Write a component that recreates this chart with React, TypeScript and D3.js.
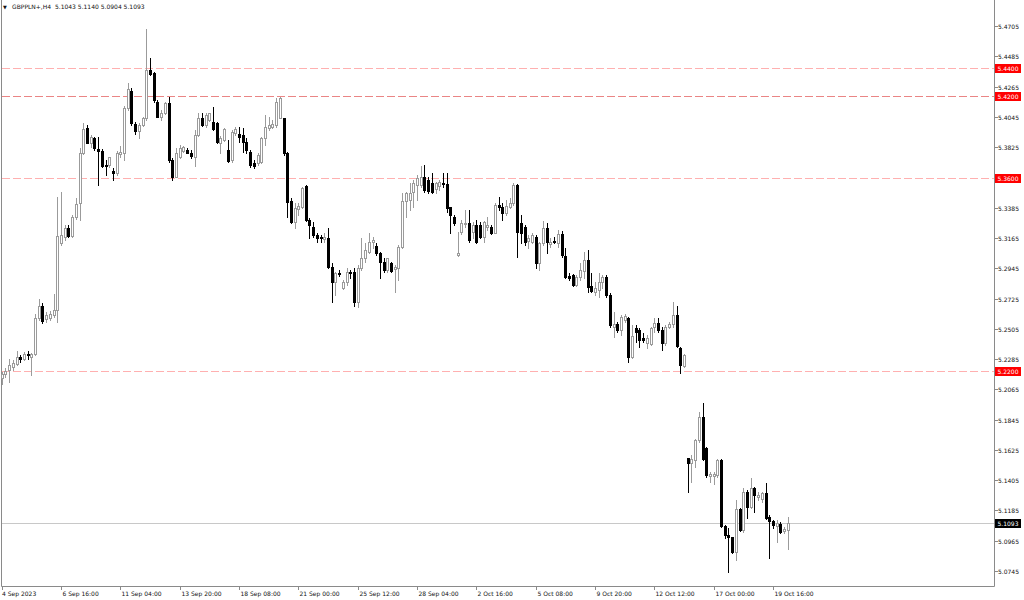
import { useEffect, useRef } from 'react';
import * as d3 from 'd3';

// GBPPLN+ H4 candles, 4 Sep 2023 -> 20 Oct 2023
const openPrices = [
  5.2144, 5.2175, 5.2204, 5.2224, 5.2248, 5.2297, 5.2289, 5.2321, 5.2301, 5.2321,
  5.2580, 5.2670, 5.2573, 5.2580, 5.2604, 5.2640, 5.3125, 5.3173, 5.3234, 5.3180,
  5.3319, 5.3416, 5.3784, 5.3961, 5.3857, 5.3889, 5.3809, 5.3799, 5.3697, 5.3692,
  5.3653, 5.3634, 5.3774, 5.3779, 5.4107, 5.4233, 5.3993, 5.3944, 5.3985, 5.4034,
  5.4385, 5.4361, 5.4155, 5.4046, 5.4070, 5.4147, 5.3731, 5.3610, 5.3755, 5.3799,
  5.3804, 5.3784, 5.3755, 5.3913, 5.4034, 5.3985, 5.4022, 5.4009, 5.3998, 5.3857,
  5.3877, 5.3804, 5.3731, 5.3927, 5.3920, 5.3913, 5.3864, 5.3791, 5.3709, 5.3707,
  5.3718, 5.3889, 5.3961, 5.3973, 5.3985, 5.4034, 5.4034, 5.3780, 5.3433, 5.3283,
  5.3375, 5.3392, 5.3544, 5.3295, 5.3246, 5.3186, 5.3174, 5.3157, 5.3162, 5.2956,
  5.2842, 5.2908, 5.2799, 5.2847, 5.2919, 5.2915, 5.2701, 5.2944, 5.3017, 5.3065,
  5.3137, 5.3108, 5.3053, 5.2992, 5.2932, 5.2981, 5.2939, 5.2944, 5.3097, 5.3435,
  5.3441, 5.3501, 5.3549, 5.3549, 5.3610, 5.3586, 5.3562, 5.3518, 5.3542, 5.3566,
  5.3556, 5.3387, 5.3315, 5.3041, 5.3210, 5.3266, 5.3271, 5.3210, 5.3259, 5.3259,
  5.3174, 5.3246, 5.3246, 5.3203, 5.3404, 5.3392, 5.3344, 5.3392, 5.3416, 5.3549,
  5.3271, 5.3246, 5.3142, 5.3137, 5.3174, 5.2981, 5.3126, 5.3235, 5.3119, 5.3142,
  5.3126, 5.3191, 5.3036, 5.2890, 5.2895, 5.2823, 5.2883, 5.2925, 5.3005, 5.2818,
  5.2770, 5.2787, 5.2847, 5.2883, 5.2750, 5.2520, 5.2537, 5.2496, 5.2568, 5.2580,
  5.2302, 5.2508, 5.2496, 5.2440, 5.2399, 5.2392, 5.2520, 5.2544, 5.2496, 5.2399,
  5.2520, 5.2537, 5.2604, 5.2367, 5.2236, 5.1563, 5.1527, 5.1551, 5.1696, 5.1866,
  5.1636, 5.1437, 5.1437, 5.1441, 5.1551, 5.1072, 5.1010, 5.0989, 5.0884, 5.1195,
  5.1042, 5.1321, 5.1212, 5.1345, 5.1284, 5.1268, 5.1309, 5.1139, 5.1108, 5.1072,
  5.1084, 5.1035, 5.1043,
];

const highPrices = [
  5.2192, 5.2217, 5.2289, 5.2277, 5.2345, 5.2313, 5.2338, 5.2345, 5.2326, 5.2611,
  5.2725, 5.2689, 5.2628, 5.2633, 5.2757, 5.3464, 5.3500, 5.3258, 5.3258, 5.3331,
  5.3452, 5.3816, 5.3998, 5.3985, 5.3913, 5.3900, 5.3900, 5.3809, 5.3731, 5.3755,
  5.3671, 5.3799, 5.3833, 5.4123, 5.4293, 5.4252, 5.4009, 5.3998, 5.4046, 5.4683,
  5.4472, 5.4373, 5.4167, 5.4094, 5.4155, 5.4191, 5.3743, 5.3816, 5.3840, 5.3833,
  5.3816, 5.3804, 5.3949, 5.4075, 5.4070, 5.4075, 5.4075, 5.4119, 5.4009, 5.3905,
  5.3961, 5.3877, 5.3949, 5.3971, 5.3973, 5.3961, 5.3891, 5.3804, 5.3731, 5.3780,
  5.3900, 5.4058, 5.4046, 5.4022, 5.4180, 5.4191, 5.4039, 5.3791, 5.3453, 5.3416,
  5.3416, 5.3537, 5.3550, 5.3307, 5.3283, 5.3198, 5.3186, 5.3198, 5.3235, 5.2981,
  5.2919, 5.2932, 5.2859, 5.2944, 5.2932, 5.2944, 5.2968, 5.3162, 5.3126, 5.3198,
  5.3174, 5.3126, 5.3065, 5.3017, 5.3021, 5.2992, 5.2968, 5.3113, 5.3494, 5.3501,
  5.3562, 5.3586, 5.3622, 5.3688, 5.3695, 5.3610, 5.3634, 5.3573, 5.3586, 5.3634,
  5.3634, 5.3392, 5.3331, 5.3210, 5.3295, 5.3368, 5.3368, 5.3283, 5.3295, 5.3283,
  5.3290, 5.3319, 5.3259, 5.3416, 5.3464, 5.3416, 5.3441, 5.3453, 5.3562, 5.3557,
  5.3331, 5.3259, 5.3186, 5.3198, 5.3186, 5.3137, 5.3288, 5.3271, 5.3162, 5.3174,
  5.3223, 5.3215, 5.3089, 5.2908, 5.2900, 5.2895, 5.2981, 5.3065, 5.3077, 5.2908,
  5.2847, 5.2908, 5.2895, 5.2895, 5.2762, 5.2629, 5.2556, 5.2605, 5.2610, 5.2592,
  5.2532, 5.2532, 5.2508, 5.2472, 5.2459, 5.2520, 5.2581, 5.2581, 5.2520, 5.2532,
  5.2556, 5.2701, 5.2672, 5.2374, 5.2319, 5.1568, 5.1587, 5.1704, 5.1898, 5.1963,
  5.1648, 5.1466, 5.1466, 5.1558, 5.1558, 5.1077, 5.1054, 5.0994, 5.1260, 5.1200,
  5.1350, 5.1333, 5.1418, 5.1357, 5.1321, 5.1321, 5.1382, 5.1151, 5.1115, 5.1115,
  5.1103, 5.1067, 5.1140,
];

const lowPrices = [
  5.2107, 5.2155, 5.2119, 5.2204, 5.2241, 5.2264, 5.2277, 5.2289, 5.2168, 5.2313,
  5.2568, 5.2544, 5.2555, 5.2568, 5.2592, 5.2555, 5.3113, 5.3149, 5.3173, 5.3173,
  5.3300, 5.3295, 5.3774, 5.3852, 5.3828, 5.3804, 5.3549, 5.3682, 5.3622, 5.3682,
  5.3586, 5.3622, 5.3755, 5.3731, 5.4094, 5.3985, 5.3920, 5.3889, 5.3978, 5.4022,
  5.4349, 5.4155, 5.4041, 5.4022, 5.4065, 5.3718, 5.3586, 5.3605, 5.3743, 5.3791,
  5.3779, 5.3743, 5.3687, 5.3905, 5.3978, 5.3973, 5.4017, 5.3949, 5.3852, 5.3779,
  5.3872, 5.3718, 5.3717, 5.3913, 5.3864, 5.3791, 5.3780, 5.3682, 5.3675, 5.3695,
  5.3709, 5.3840, 5.3949, 5.3961, 5.3973, 5.4034, 5.3768, 5.3319, 5.3271, 5.3239,
  5.3331, 5.3385, 5.3288, 5.3167, 5.3174, 5.3137, 5.3133, 5.3137, 5.2944, 5.2701,
  5.2750, 5.2890, 5.2794, 5.2823, 5.2871, 5.2672, 5.2665, 5.2932, 5.2992, 5.3053,
  5.3089, 5.3041, 5.2871, 5.2919, 5.2919, 5.2919, 5.2774, 5.2859, 5.3089, 5.3319,
  5.3367, 5.3392, 5.3441, 5.3537, 5.3501, 5.3489, 5.3489, 5.3489, 5.3513, 5.3537,
  5.3355, 5.3198, 5.3259, 5.3033, 5.3193, 5.3246, 5.3137, 5.3162, 5.3126, 5.3162,
  5.3137, 5.3223, 5.3193, 5.3198, 5.3368, 5.3295, 5.3331, 5.3380, 5.3404, 5.3028,
  5.3126, 5.3113, 5.3089, 5.3126, 5.2944, 5.2932, 5.3113, 5.3053, 5.3101, 5.3126,
  5.3101, 5.3028, 5.2871, 5.2859, 5.2818, 5.2818, 5.2859, 5.2871, 5.2774, 5.2770,
  5.2750, 5.2738, 5.2799, 5.2738, 5.2520, 5.2447, 5.2483, 5.2460, 5.2555, 5.2261,
  5.2290, 5.2411, 5.2374, 5.2411, 5.2367, 5.2387, 5.2483, 5.2483, 5.2350, 5.2387,
  5.2508, 5.2520, 5.2374, 5.2181, 5.2229, 5.1321, 5.1393, 5.1502, 5.1684, 5.1551,
  5.1430, 5.1393, 5.1374, 5.1430, 5.1065, 5.0986, 5.0739, 5.0873, 5.0824, 5.1035,
  5.1030, 5.1127, 5.1200, 5.1175, 5.1260, 5.1248, 5.1122, 5.0836, 5.1055, 5.0957,
  5.1018, 5.1018, 5.0904,
];

const closePrices = [
  5.2175, 5.2199, 5.2241, 5.2253, 5.2297, 5.2282, 5.2321, 5.2311, 5.2321, 5.2580,
  5.2670, 5.2563, 5.2604, 5.2616, 5.2640, 5.3178, 5.3186, 5.3234, 5.3180, 5.3319,
  5.3411, 5.3784, 5.3954, 5.3857, 5.3896, 5.3816, 5.3799, 5.3687, 5.3687, 5.3750,
  5.3634, 5.3784, 5.3791, 5.4107, 5.4245, 5.3999, 5.3944, 5.3985, 5.4034, 5.4385,
  5.4356, 5.4167, 5.4046, 5.4070, 5.4147, 5.3731, 5.3610, 5.3779, 5.3816, 5.3823,
  5.3784, 5.3760, 5.3913, 5.4034, 5.3985, 5.4058, 5.4070, 5.3954, 5.3864, 5.3889,
  5.3954, 5.3726, 5.3937, 5.3956, 5.3898, 5.3864, 5.3804, 5.3695, 5.3688, 5.3768,
  5.3889, 5.3973, 5.3985, 5.3991, 5.4155, 5.4180, 5.3780, 5.3428, 5.3283, 5.3380,
  5.3399, 5.3530, 5.3295, 5.3259, 5.3186, 5.3166, 5.3162, 5.3174, 5.2956, 5.2842,
  5.2908, 5.2901, 5.2847, 5.2919, 5.2908, 5.2701, 5.2948, 5.3017, 5.3077, 5.3137,
  5.3150, 5.3053, 5.2992, 5.2932, 5.3017, 5.2925, 5.2956, 5.3097, 5.3435, 5.3494,
  5.3494, 5.3566, 5.3598, 5.3610, 5.3513, 5.3508, 5.3501, 5.3566, 5.3573, 5.3556,
  5.3380, 5.3331, 5.3271, 5.3053, 5.3271, 5.3276, 5.3150, 5.3259, 5.3137, 5.3174,
  5.3283, 5.3259, 5.3203, 5.3404, 5.3392, 5.3344, 5.3397, 5.3421, 5.3549, 5.3210,
  5.3198, 5.3137, 5.3166, 5.3186, 5.2981, 5.3126, 5.3235, 5.3137, 5.3137, 5.3133,
  5.3191, 5.3041, 5.2883, 5.2876, 5.2823, 5.2883, 5.2932, 5.3005, 5.2810, 5.2779,
  5.2799, 5.2847, 5.2883, 5.2750, 5.2532, 5.2537, 5.2496, 5.2592, 5.2600, 5.2302,
  5.2454, 5.2483, 5.2423, 5.2423, 5.2440, 5.2508, 5.2544, 5.2496, 5.2399, 5.2520,
  5.2539, 5.2604, 5.2381, 5.2241, 5.2314, 5.1527, 5.1556, 5.1696, 5.1866, 5.1558,
  5.1442, 5.1447, 5.1447, 5.1551, 5.1072, 5.1010, 5.0992, 5.0884, 5.1195, 5.1042,
  5.1321, 5.1212, 5.1345, 5.1297, 5.1297, 5.1309, 5.1132, 5.1108, 5.1079, 5.1091,
  5.1030, 5.1050, 5.1093,
];

// bottom time axis: bar index of each label
const timeTickBars = [0, 16, 32, 48, 64, 80, 96, 112, 128, 144, 160, 176, 192, 208];
const timeTickLabels = [
  '4 Sep 2023', '6 Sep 16:00', '11 Sep 04:00', '13 Sep 20:00', '18 Sep 08:00',
  '21 Sep 00:00', '25 Sep 12:00', '28 Sep 04:00', '2 Oct 16:00', '5 Oct 08:00',
  '9 Oct 20:00', '12 Oct 12:00', '17 Oct 00:00', '19 Oct 16:00',
];

const priceTicks = [
  5.4705, 5.4485, 5.4265, 5.4045, 5.3825, 5.3605, 5.3385, 5.3165, 5.2945, 5.2725,
  5.2505, 5.2285, 5.2065, 5.1845, 5.1625, 5.1405, 5.1185, 5.0965, 5.0745,
];

const levelPrices = [5.44, 5.42, 5.36, 5.22];
const levelColors = ['#ffb0b0', '#ea8585', '#ffb0b0', '#ffb0b0'];
const lastPrice = 5.1093;
const headerText = 'GBPPLN+,H4  5.1043 5.1140 5.0904 5.1093';

const FONT = '"DejaVu Sans", Tahoma, sans-serif';
const plotLeft = 1;
const plotRight = 994;
const plotBottom = 586;

export default function App() {
  const svgRef = useRef<SVGSVGElement>(null);

  useEffect(() => {
    if (!svgRef.current) return;
    const svg = d3.select(svgRef.current);
    svg.selectAll('*').remove();

    const x = d3.scaleLinear().domain([0, openPrices.length - 1]).range([1.7, 787.8]);
    const y = d3.scaleLinear().domain([5.0745, 5.4705]).range([571, 26]);
    const px = (i: number) => Math.round(x(i)) + 0.5;
    const py = (v: number) => Math.round(y(v)) + 0.5;

    svg.append('rect').attr('width', 1024).attr('height', 600).attr('fill', '#fff');

    // frame
    svg.append('path')
      .attr('d', `M${plotLeft + 0.5},0V${plotBottom + 0.5}H${plotRight + 0.5}V0`)
      .attr('fill', 'none')
      .attr('stroke', '#8a8a8a');

    // horizontal levels
    levelPrices.forEach((p, k) => {
      svg.append('line')
        .attr('x1', plotLeft + 1).attr('x2', plotRight)
        .attr('y1', py(p)).attr('y2', py(p))
        .attr('stroke', levelColors[k])
        .attr('stroke-dasharray', '8,3');
    });

    svg.append('line')
      .attr('x1', plotLeft + 1).attr('x2', plotRight)
      .attr('y1', py(lastPrice)).attr('y2', py(lastPrice))
      .attr('stroke', '#c8c8c8');

    // candles
    const g = svg.append('g').attr('shape-rendering', 'crispEdges');
    openPrices.forEach((o, i) => {
      const c = closePrices[i];
      const up = c >= o;
      const cx = px(i);
      const col = up ? '#9b9b9b' : '#000';
      g.append('line')
        .attr('x1', cx).attr('x2', cx)
        .attr('y1', Math.round(y(highPrices[i]))).attr('y2', Math.round(y(lowPrices[i])) + 1)
        .attr('stroke', col);
      const top = Math.round(y(Math.max(o, c)));
      const bot = Math.round(y(Math.min(o, c)));
      if (up) {
        g.append('rect')
          .attr('x', cx - 1).attr('y', top + 0.5)
          .attr('width', 2).attr('height', Math.max(bot - top, 1))
          .attr('fill', '#fff').attr('stroke', col);
      } else {
        g.append('rect')
          .attr('x', cx - 1.5).attr('y', top)
          .attr('width', 3).attr('height', Math.max(bot - top + 1, 1))
          .attr('fill', '#000');
      }
    });

    // price axis
    const axis = svg.append('g').attr('font-family', FONT).attr('font-size', 6).attr('fill', '#111');
    priceTicks.forEach((p) => {
      axis.append('line')
        .attr('x1', plotRight + 1).attr('x2', plotRight + 4)
        .attr('y1', py(p)).attr('y2', py(p))
        .attr('stroke', '#8a8a8a');
      axis.append('text')
        .attr('x', plotRight + 4).attr('y', py(p)).attr('dy', '0.36em')
        .text(p.toFixed(4));
    });

    const tag = (p: number, bg: string) => {
      axis.append('rect')
        .attr('x', plotRight + 1).attr('y', py(p) - 4.5)
        .attr('width', 26).attr('height', 9)
        .attr('fill', bg);
      axis.append('text')
        .attr('x', plotRight + 3.5).attr('y', py(p)).attr('dy', '0.36em')
        .attr('fill', '#fff')
        .text(p.toFixed(4));
    };
    levelPrices.forEach((p) => tag(p, '#ff0000'));
    tag(lastPrice, '#000');

    // time axis
    timeTickBars.forEach((b, k) => {
      const cx = px(b);
      axis.append('line')
        .attr('x1', cx).attr('x2', cx)
        .attr('y1', plotBottom + 1).attr('y2', plotBottom + 4)
        .attr('stroke', '#8a8a8a');
      axis.append('text')
        .attr('x', k === 0 ? 2 : cx + 1).attr('y', 596)
        .text(timeTickLabels[k]);
    });

    // header
    const head = svg.append('g').attr('font-family', FONT).attr('fill', '#111');
    head.append('text').attr('x', 3).attr('y', 8.5).attr('font-size', 5).text('▼');
    head.append('text').attr('x', 12).attr('y', 9).attr('font-size', 6).attr('xml:space', 'preserve').text(headerText);
  }, []);

  return (
    <svg
      ref={svgRef}
      width={1024}
      height={600}
      style={{ position: 'absolute', left: 0, top: 0, display: 'block' }}
    />
  );
}
